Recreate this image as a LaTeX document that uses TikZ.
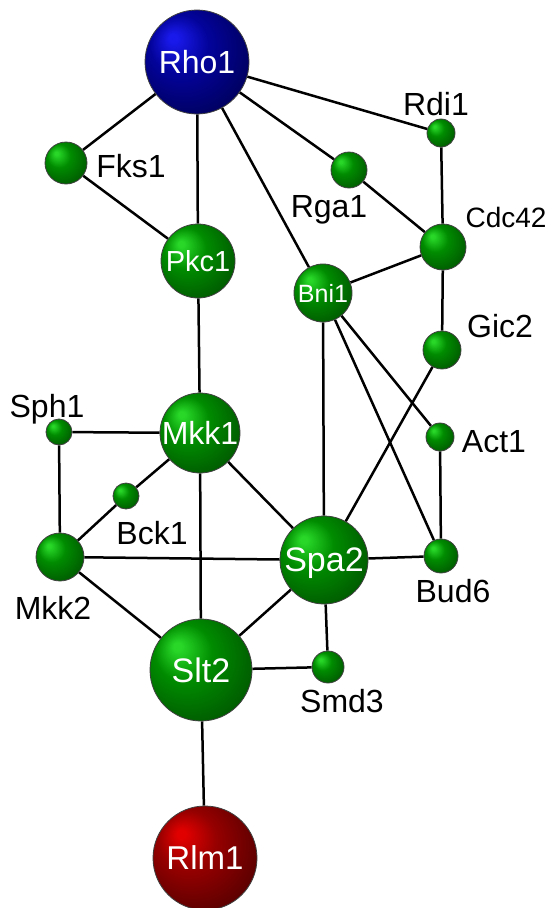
\documentclass[tikz,border=0pt]{standalone}
\usepackage{fontspec}
\setmainfont{Liberation Sans}
\usetikzlibrary{backgrounds}
\definecolor{ghi}{RGB}{40,215,40}
\definecolor{gmid}{RGB}{0,140,0}
\definecolor{gdk}{RGB}{0,90,0}
\definecolor{bhi}{RGB}{25,25,235}
\definecolor{bmid}{RGB}{3,3,155}
\definecolor{bdk}{RGB}{0,0,95}
\definecolor{rhi}{RGB}{225,0,0}
\definecolor{rmid}{RGB}{150,0,0}
\definecolor{rdk}{RGB}{90,0,0}
\pgfdeclareradialshading{gball}{\pgfqpoint{-12bp}{12bp}}{color(0bp)=(ghi); color(2bp)=(ghi); color(14bp)=(gmid); color(32bp)=(gdk); color(50bp)=(gdk)}
\pgfdeclareradialshading{bball}{\pgfqpoint{-12bp}{12bp}}{color(0bp)=(bhi); color(2bp)=(bhi); color(14bp)=(bmid); color(32bp)=(bdk); color(50bp)=(bdk)}
\pgfdeclareradialshading{rball}{\pgfqpoint{-12bp}{12bp}}{color(0bp)=(rhi); color(2bp)=(rhi); color(14bp)=(rmid); color(32bp)=(rdk); color(50bp)=(rdk)}
\tikzset{
  ball/.style={circle, draw=black!75, line width=0.8pt, inner sep=0pt, text=white, text depth=0pt, shading=gball, minimum size=2*#1 pt},
  blueball/.style={ball=#1, shading=bball},
  redball/.style={ball=#1, shading=rball},
  lbl/.style={anchor=base, inner sep=0pt, font=\fontsize{32}{36}\selectfont},
  edge/.style={line width=2.5pt, black}
}
\begin{document}
\begin{tikzpicture}[x=1pt, y=-1pt]
\useasboundingbox (0,0) rectangle (552,908);
% nodes
\node[blueball=52, font=\fontsize{32}{36}\selectfont] (Rho1) at (197,62) {Rho1};
\node[ball=21] (Fks1) at (66,163) {};
\node[ball=37, font=\fontsize{29}{34}\selectfont] (Pkc1) at (198,261) {Pkc1};
\node[ball=18] (Rga1) at (349,170) {};
\node[ball=14] (Rdi1) at (441,133) {};
\node[ball=23] (Cdc42) at (443,247) {};
\node[ball=29, font=\fontsize{25}{30}\selectfont] (Bni1) at (323,293) {Bni1};
\node[ball=19] (Gic2) at (442,350) {};
\node[ball=14] (Act1) at (440,437) {};
\node[ball=13] (Sph1) at (59,432) {};
\node[ball=40, font=\fontsize{32}{36}\selectfont] (Mkk1) at (200,433) {Mkk1};
\node[ball=13] (Bck1) at (126,496) {};
\node[ball=24] (Mkk2) at (60,557) {};
\node[ball=44, font=\fontsize{34}{38}\selectfont] (Spa2) at (324,560) {Spa2};
\node[ball=17] (Bud6) at (441,556) {};
\node[ball=16] (Smd3) at (328,667) {};
\node[ball=51, font=\fontsize{34}{38}\selectfont] (Slt2) at (201,670) {Slt2};
\node[redball=52, font=\fontsize{33}{38}\selectfont] (Rlm1) at (205,858) {Rlm1};
% labels
\node[lbl] (lRdi1) at (436,115) {Rdi1};
\node[lbl] (lFks1) at (131,177) {Fks1};
\node[lbl] (lRga1) at (329,217) {Rga1};
\node[lbl, font=\fontsize{28}{32}\selectfont] (lCdc42) at (506,227) {Cdc42};
\node[lbl] (lGic2) at (500,337) {Gic2};
\node[lbl] (lAct1) at (494,452) {Act1};
\node[lbl] (lSph1) at (47,417) {Sph1};
\node[lbl] (lBck1) at (152,544) {Bck1};
\node[lbl] (lMkk2) at (53,619) {Mkk2};
\node[lbl] (lBud6) at (453,602) {Bud6};
\node[lbl] (lSmd3) at (342,712) {Smd3};
% edges
\begin{pgfonlayer}{background}
\foreach \a/\b in {Rho1/Fks1, Rho1/Pkc1, Rho1/Rdi1, Rho1/Rga1, Rho1/Bni1,
  Fks1/Pkc1, Pkc1/Mkk1, Rdi1/Cdc42, Rga1/Cdc42, Cdc42/Bni1, Cdc42/Gic2,
  Gic2/Spa2, Bni1/Spa2, Bni1/Act1, Bni1/Bud6, Act1/Bud6, Sph1/Mkk1,
  Sph1/Mkk2, Mkk1/Bck1, Bck1/Mkk2, Mkk1/Spa2, Mkk1/Slt2, Mkk2/Spa2,
  Spa2/Bud6, Mkk2/Slt2, Spa2/Slt2, Spa2/Smd3, Slt2/Smd3, Slt2/Rlm1}
  \draw[edge] (\a) -- (\b);
\end{pgfonlayer}
\end{tikzpicture}
\end{document}
